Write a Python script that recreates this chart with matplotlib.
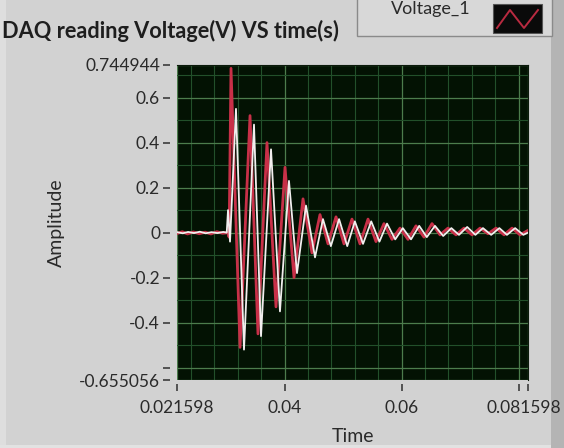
import matplotlib
matplotlib.use("Agg")
import matplotlib.pyplot as plt
from matplotlib.patches import Rectangle
from matplotlib.lines import Line2D
from matplotlib.ticker import MultipleLocator

plt.rcParams['font.family'] = ['Lato', 'DejaVu Sans']

# -------------------------
# DATA
# -------------------------
x_min, x_max = 0.021598, 0.081598
y_min, y_max = -0.655056, 0.744944

x_ticks = [0.021598, 0.04, 0.06, 0.08, 0.081598]
x_tick_labels = ['0.021598', '0.04', '0.06', '', '']
x_end_label = '0.081598'
y_ticks = [0.744944, 0.6, 0.4, 0.2, 0, -0.2, -0.4, -0.6, -0.655056]
y_tick_labels = ['0.744944', '0.6', '0.4', '0.2', '0', '-0.2', '-0.4', '', '-0.655056']

# channel 0 (red)
red_t = [0.02160, 0.02250, 0.02340, 0.02440, 0.02540, 0.02640, 0.02740, 0.02840,
         0.02940, 0.03030, 0.03050, 0.03083,
         0.03237, 0.03408, 0.03544, 0.03698, 0.03852, 0.04006, 0.04160, 0.04314,
         0.04467, 0.04604, 0.04741, 0.04878, 0.05014, 0.05151, 0.05288, 0.05425,
         0.05561, 0.05698, 0.05835, 0.05972, 0.06109, 0.06245, 0.06382, 0.06519,
         0.06656, 0.06792, 0.06929, 0.07066, 0.07203, 0.07340, 0.07476, 0.07613,
         0.07750, 0.07887, 0.08023, 0.08160]
red_v = [-0.004, 0.004, -0.006, 0.003, -0.005, 0.002, -0.006, 0.004,
         -0.003, 0.000, -0.02, 0.73,
         -0.51, 0.52, -0.45, 0.40, -0.33, 0.29, -0.20, 0.15,
         -0.09, 0.08, -0.05, 0.07, -0.05, 0.06, -0.05, 0.06,
         -0.04, 0.04, -0.03, 0.02, -0.03, 0.03, -0.02, 0.04,
         -0.01, 0.02, -0.01, 0.02, -0.01, 0.02, -0.005, 0.02,
         -0.01, 0.02, -0.01, 0.01]

# channel 1 (white)
white_t = [0.02160, 0.02260, 0.02350, 0.02450, 0.02550, 0.02650, 0.02750, 0.02850,
           0.02950, 0.03010, 0.03032, 0.03066,
           0.03168, 0.03305, 0.03476, 0.03596, 0.03767, 0.03920, 0.04074, 0.04211,
           0.04365, 0.04519, 0.04655, 0.04790, 0.04930, 0.05070, 0.05200, 0.05340,
           0.05480, 0.05620, 0.05750, 0.05890, 0.06020, 0.06160, 0.06300, 0.06430,
           0.06570, 0.06710, 0.06850, 0.06980, 0.07120, 0.07260, 0.07390, 0.07530,
           0.07670, 0.07800, 0.07940, 0.08080, 0.08160]
white_v = [0.002, -0.003, 0.003, -0.002, 0.004, -0.003, 0.002, -0.002,
           0.003, 0.000, 0.10, -0.04,
           0.55, -0.52, 0.48, -0.46, 0.37, -0.35, 0.23, -0.18,
           0.12, -0.11, 0.06, -0.06, 0.06, -0.06, 0.05, -0.05,
           0.05, -0.04, 0.04, -0.03, 0.02, -0.03, 0.03, -0.02,
           0.03, -0.015, 0.02, -0.01, 0.025, -0.01, 0.02, -0.01,
           0.02, -0.01, 0.02, -0.01, 0.0]

# -------------------------
# FIGURE / PANEL
# -------------------------
W, H = 564, 448
fig = plt.figure(figsize=(W / 100, H / 100), dpi=100, facecolor='#d2d2d2')


def px_rect(x0, y0, x1, y1, **kw):
    # rectangle in pixel coords, y from top
    r = Rectangle((x0 / W, 1 - y1 / H), (x1 - x0) / W, (y1 - y0) / H,
                  transform=fig.transFigure, **kw)
    fig.add_artist(r)
    return r


# panel edges (behind the graph and its labels)
px_rect(0, 0, 6, H, facecolor='#dedede', edgecolor='none', zorder=-5)
px_rect(551, 0, W, H, facecolor='#b4b4b4', edgecolor='none', zorder=-5)
px_rect(0, 445, 551, H, facecolor='#e2e2e2', edgecolor='none', zorder=-5)

# legend box
px_rect(357, -4, 552, 36, facecolor='#d8d8d8', edgecolor='#8a8a8a', lw=1.0)
px_rect(493, 4, 542, 33, facecolor='#0a0a0a', edgecolor='#555555', lw=0.8)
fig.add_artist(Line2D([497 / W, 510 / W, 524 / W, 538 / W],
                      [1 - 28 / H, 1 - 10 / H, 1 - 28 / H, 1 - 10 / H],
                      transform=fig.transFigure, color='#b82a40', lw=1.4))
fig.text(431 / W, 1 - 9 / H, 'Voltage_1', ha='center', va='center',
         fontsize=13, color='#2a2a2a')

fig.text(2 / W, 1 - 31 / H, 'DAQ reading Voltage(V) VS time(s)',
         ha='left', va='center', fontsize=15.7, fontweight='bold', color='#1e1e1e')

# -------------------------
# PLOT
# -------------------------
ax = fig.add_axes([177 / W, 1 - 380 / H, 351 / W, 315 / H])
ax.set_facecolor('#031203')

ax.plot(red_t, red_v, color='#c83048', lw=2.0, solid_joinstyle='round')
ax.plot(white_t, white_v, color='#f2eeee', lw=1.3, solid_joinstyle='round')

ax.set_xlim(x_min, x_max)
ax.set_ylim(y_min, y_max)

ax.set_xticks(x_ticks)
ax.set_xticklabels(x_tick_labels)
ax.set_yticks(y_ticks)
ax.set_yticklabels(y_tick_labels)
ax.xaxis.set_minor_locator(MultipleLocator(0.004))
ax.yaxis.set_minor_locator(MultipleLocator(0.1))

ax.grid(which='major', color='#4c7c4c', lw=0.9)
ax.grid(which='minor', color='#22502a', lw=0.8)
ax.set_axisbelow(True)

for side in ['top', 'right']:
    ax.spines[side].set_color('#0b1a0b')
ax.spines['left'].set_position(('outward', 5))
ax.spines['bottom'].set_position(('outward', 3))
ax.spines['left'].set_visible(False)
ax.spines['bottom'].set_visible(False)

ax.tick_params(which='major', direction='out', length=5.2, width=1.1,
               color='#303030', labelsize=12.5, labelcolor='#2a2a2a', pad=2)
ax.tick_params(axis='x', which='major', pad=6)
ax.tick_params(which='minor', length=0)

# end label of the time scale, pulled in so it stays inside the panel
ax.annotate(x_end_label, xy=(x_max, 0), xycoords=('data', 'axes fraction'),
            xytext=(-4, -20), textcoords='offset pixels', ha='center', va='top',
            fontsize=12.5, color='#2a2a2a', annotation_clip=False)

ax.set_ylabel('Amplitude', fontsize=14, color='#2a2a2a', labelpad=10)
ax.set_xlabel('Time', fontsize=14, color='#2a2a2a', labelpad=9)

fig.savefig('out.png', dpi=100, facecolor=fig.get_facecolor())
plt.close(fig)
